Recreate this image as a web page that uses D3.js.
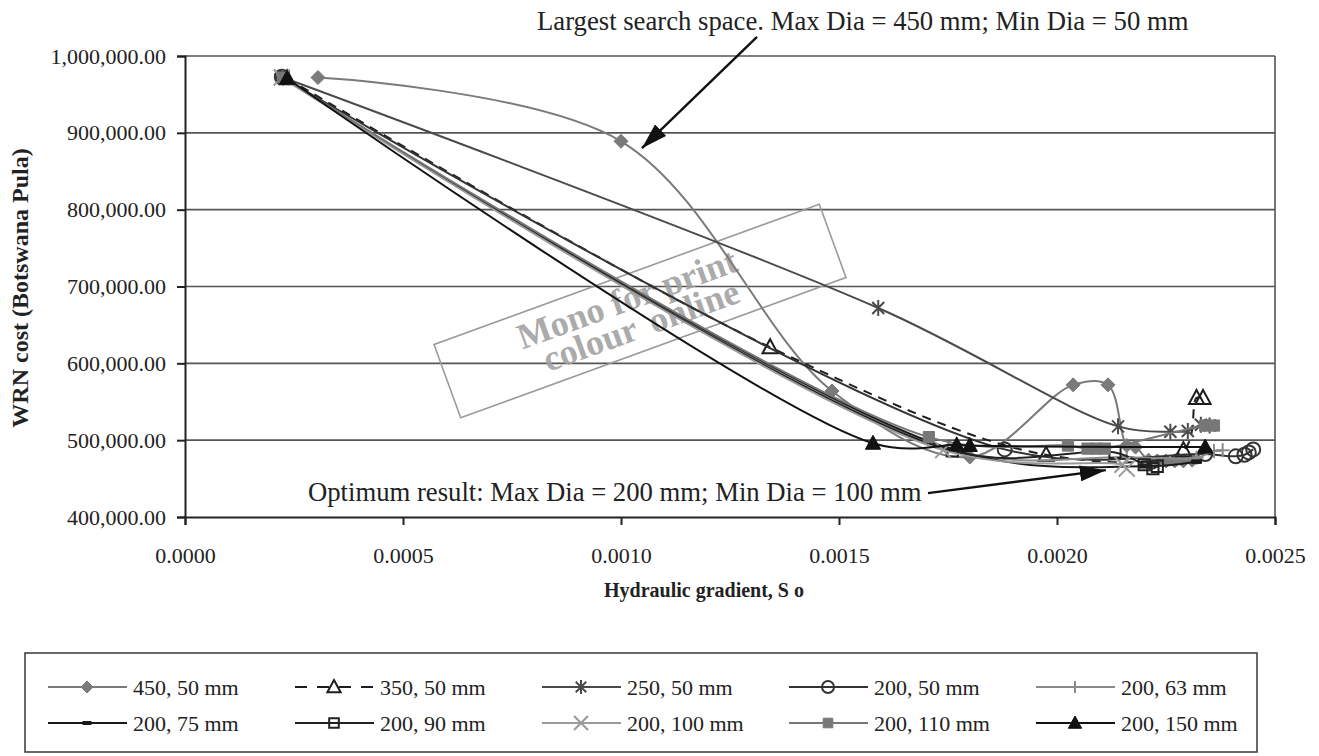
<!DOCTYPE html>
<html lang="en">
  <head>
    <meta charset="UTF-8" />
    <title>WRN cost vs hydraulic gradient</title>
    <style>
      body {
        margin: 0;
        background-color: #ffffff;
      }
      svg {
        display: block;
        font-family: "Liberation Serif", "Times New Roman", serif;
      }
      .tick text {
        font-size: 22px;
        fill: #222;
      }
      .axis-title {
        font-weight: bold;
        fill: #222;
      }
      .note {
        font-size: 26.7px;
        fill: #222;
      }
      .legend-text {
        font-size: 22px;
        fill: #222;
      }
    </style>
  </head>
  <body>
    <div id="chart"></div>

    <script src="https://d3js.org/d3.v7.min.js"></script>
    <script>
      // Data: [hydraulic gradient, WRN cost]
      const seriesNames = [
        "450, 50 mm", "350, 50 mm", "250, 50 mm", "200, 50 mm", "200, 63 mm",
        "200, 75 mm", "200, 90 mm", "200, 100 mm", "200, 110 mm", "200, 150 mm"
      ];
      const s450_50 = [
        [0.000305, 972000], [0.00100, 889000], [0.001484, 564000], [0.00180, 478000],
        [0.002037, 572000], [0.002117, 572000], [0.00216, 493000], [0.00218, 491000],
        [0.00221, 474000], [0.00223, 473000], [0.00225, 473000], [0.00227, 473000],
        [0.00229, 473000], [0.00231, 474000]
      ];
      const s350_50 = [
        [0.000234, 971000], [0.001342, 621000], [0.001975, 481000], [0.00229, 487000],
        [0.00232, 555000], [0.002335, 555000]
      ];
      const s250_50 = [
        [0.000225, 972000], [0.00159, 672000], [0.00214, 518000], [0.00226, 511000],
        [0.00230, 512000], [0.00233, 520000], [0.00235, 519000]
      ];
      const s200_50 = [
        [0.000222, 973000], [0.00188, 488000], [0.00234, 482000], [0.00241, 479000],
        [0.00243, 481000], [0.00244, 484000], [0.00245, 488000]
      ];
      const s200_63 = [
        [0.000225, 972000], [0.00175, 489000], [0.00216, 478000], [0.00232, 477000],
        [0.00236, 486000], [0.00238, 487000]
      ];
      const s200_75 = [
        [0.000222, 972000], [0.00176, 488000], [0.00220, 466000], [0.00232, 472000]
      ];
      const s200_90 = [
        [0.000225, 972000], [0.00176, 486000], [0.002133, 484000], [0.00220, 468000],
        [0.00222, 463000], [0.00223, 466000]
      ];
      const s200_100 = [
        [0.000222, 972000], [0.001739, 487000], [0.00215, 468000], [0.00216, 463000]
      ];
      const s200_110 = [
        [0.000225, 972000], [0.001706, 504000], [0.002025, 493000], [0.00207, 489000],
        [0.00209, 489000], [0.00211, 489000], [0.00234, 519000], [0.00236, 519000]
      ];
      const s200_150 = [
        [0.000234, 971000], [0.001578, 496000], [0.00177, 494000], [0.00180, 493000],
        [0.00234, 491000]
      ];
      const seriesValues = [
        s450_50, s350_50, s250_50, s200_50, s200_63,
        s200_75, s200_90, s200_100, s200_110, s200_150
      ];
      const yTicks = [400000, 500000, 600000, 700000, 800000, 900000, 1000000];
      const xTicks = [0, 0.0005, 0.001, 0.0015, 0.002, 0.0025];

      // annotation arrows in data units: [from, to]
      const arrowLargest = [[0.001312, 1025000], [0.001048, 880000]];
      const arrowOptimum = [[0.001704, 431000], [0.002112, 461000]];

      // look of each series (colour, marker, dash)
      const styles = [
        { color: "#7a7a7a", marker: "diamond", fill: true, dash: null },
        { color: "#1e1e1e", marker: "triangle", fill: false, dash: "9,7" },
        { color: "#4a4a4a", marker: "star", fill: false, dash: null },
        { color: "#333333", marker: "circle", fill: false, dash: null },
        { color: "#8a8a8a", marker: "plus", fill: false, dash: null },
        { color: "#1a1a1a", marker: "dash", fill: true, dash: null },
        { color: "#222222", marker: "square", fill: false, dash: null },
        { color: "#9a9a9a", marker: "x", fill: false, dash: null },
        { color: "#777777", marker: "square", fill: true, dash: null },
        { color: "#111111", marker: "triangle", fill: true, dash: null }
      ];

      const width = 1319;
      const height = 756;

      const x = d3.scaleLinear().domain([0, 0.0025]).range([185, 1275]);
      const y = d3.scaleLinear().domain([400000, 1000000]).range([517, 56]);

      const svg = d3
        .select("#chart")
        .append("svg")
        .attr("width", width)
        .attr("height", height);

      const defs = svg.append("defs");
      defs
        .append("marker")
        .attr("id", "arrow")
        .attr("markerUnits", "userSpaceOnUse")
        .attr("viewBox", "0 0 26 16")
        .attr("refX", 26)
        .attr("refY", 8)
        .attr("markerWidth", 26)
        .attr("markerHeight", 16)
        .attr("orient", "auto")
        .append("path")
        .attr("d", "M0,0 L26,8 L0,16 Z")
        .attr("fill", "#111");

      // gridlines
      svg
        .append("g")
        .selectAll("line")
        .data(yTicks.slice(1))
        .join("line")
        .attr("x1", x.range()[0])
        .attr("x2", x.range()[1])
        .attr("y1", (d) => y(d))
        .attr("y2", (d) => y(d))
        .attr("stroke", "#555")
        .attr("stroke-width", 1.6);

      // right border of plot area
      svg
        .append("line")
        .attr("x1", x.range()[1])
        .attr("x2", x.range()[1])
        .attr("y1", y.range()[0])
        .attr("y2", y.range()[1])
        .attr("stroke", "#555")
        .attr("stroke-width", 1.6);

      // axes
      const yAxis = svg
        .append("g")
        .attr("transform", "translate(" + x.range()[0] + ",0)")
        .call(
          d3.axisLeft(y).tickValues(yTicks).tickFormat(d3.format(",.2f")).tickSize(8).tickPadding(11)
        );
      const xAxis = svg
        .append("g")
        .attr("transform", "translate(0," + y.range()[0] + ")")
        .call(
          d3.axisBottom(x).tickValues(xTicks).tickFormat(d3.format(".4f")).tickSize(8).tickPadding(22)
        );
      [xAxis, yAxis].forEach((g) => {
        g.attr("font-family", null).attr("font-size", null);
        g.select(".domain").attr("stroke", "#222").attr("stroke-width", 2);
        g.selectAll(".tick line").attr("stroke", "#222").attr("stroke-width", 2);
      });

      // watermark
      const wm = svg
        .append("g")
        .attr("transform", "translate(640,311) rotate(-20)");
      wm.append("rect")
        .attr("x", -205)
        .attr("y", -39)
        .attr("width", 410)
        .attr("height", 78)
        .attr("fill", "none")
        .attr("stroke", "#9a9a9a")
        .attr("stroke-width", 1.6);
      wm.append("text")
        .attr("text-anchor", "middle")
        .attr("x", -8)
        .attr("y", -4)
        .attr("font-size", 36)
        .attr("font-weight", "bold")
        .attr("fill", "#a0a0a0")
        .attr("fill-opacity", 0.9)
        .text("Mono for print");
      wm.append("text")
        .attr("text-anchor", "middle")
        .attr("x", -4)
        .attr("y", 26)
        .attr("font-size", 36)
        .attr("font-weight", "bold")
        .attr("fill", "#a0a0a0")
        .attr("fill-opacity", 0.9)
        .attr("word-spacing", 6)
        .text("colour online");

      // marker shapes
      function markerPath(type, s) {
        switch (type) {
          case "diamond":
            return `M0,${-s}L${s},0L0,${s}L${-s},0Z`;
          case "triangle":
            return `M0,${-s}L${s * 0.95},${s * 0.75}L${-s * 0.95},${s * 0.75}Z`;
          case "star":
            return `M0,${-s}V${s}M${-s * 0.75},${-s * 0.75}L${s * 0.75},${s * 0.75}M${s * 0.75},${-s * 0.75}L${-s * 0.75},${s * 0.75}`;
          case "plus":
            return `M0,${-s}V${s}M${-s},0H${s}`;
          case "x":
            return `M${-s},${-s}L${s},${s}M${s},${-s}L${-s},${s}`;
          case "square":
            return `M${-s * 0.8},${-s * 0.8}H${s * 0.8}V${s * 0.8}H${-s * 0.8}Z`;
          case "dash":
            return `M${-s * 0.7},${-s * 0.25}H${s * 0.7}V${s * 0.25}H${-s * 0.7}Z`;
          case "circle":
            return d3.symbol(d3.symbolCircle, Math.PI * s * s)();
        }
      }
      function drawMarker(sel, st, s) {
        sel
          .attr("d", markerPath(st.marker, s))
          .attr("fill", st.fill ? st.color : "none")
          .attr("stroke", st.color)
          .attr("stroke-width", st.fill ? 1 : 2);
      }

      const line = d3
        .line()
        .x((d) => x(d[0]))
        .y((d) => y(d[1]))
        .curve(d3.curveCatmullRom.alpha(0.5));

      const sizes = { diamond: 7, triangle: 8, star: 8, circle: 7, plus: 7, dash: 7, square: 7, x: 8 };

      seriesValues.forEach((vals, i) => {
        const st = styles[i];
        const g = svg.append("g");
        g.append("path")
          .datum(vals)
          .attr("d", line)
          .attr("fill", "none")
          .attr("stroke", st.color)
          .attr("stroke-width", 2)
          .attr("stroke-dasharray", st.dash);
        g.selectAll("path.pt")
          .data(vals)
          .join("path")
          .attr("class", "pt")
          .attr("transform", (d) => `translate(${x(d[0])},${y(d[1])})`)
          .call(drawMarker, st, sizes[st.marker]);
      });

      // annotations
      svg
        .append("text")
        .attr("class", "note")
        .attr("x", 537)
        .attr("y", 30)
        .text("Largest search space. Max Dia = 450 mm; Min Dia = 50 mm");
      svg
        .append("text")
        .attr("class", "note")
        .attr("x", 308)
        .attr("y", 501)
        .text("Optimum result: Max Dia = 200 mm; Min Dia = 100 mm");
      [arrowLargest, arrowOptimum].forEach((a) => {
        svg
          .append("line")
          .attr("x1", x(a[0][0]))
          .attr("y1", y(a[0][1]))
          .attr("x2", x(a[1][0]))
          .attr("y2", y(a[1][1]))
          .attr("stroke", "#111")
          .attr("stroke-width", 2.4)
          .attr("marker-end", "url(#arrow)");
      });

      // axis titles
      svg
        .append("text")
        .attr("class", "axis-title")
        .attr("text-anchor", "middle")
        .attr("font-size", 24)
        .attr("transform", "translate(28,288) rotate(-90)")
        .text("WRN cost (Botswana Pula)");
      svg
        .append("text")
        .attr("class", "axis-title")
        .attr("text-anchor", "middle")
        .attr("font-size", 20)
        .attr("x", 704)
        .attr("y", 597)
        .text("Hydraulic gradient, S o");

      // legend
      const legend = svg.append("g");
      legend
        .append("rect")
        .attr("x", 25)
        .attr("y", 653)
        .attr("width", 1232)
        .attr("height", 99)
        .attr("fill", "none")
        .attr("stroke", "#444")
        .attr("stroke-width", 1.6);
      const items = legend
        .selectAll("g.item")
        .data(seriesNames)
        .join("g")
        .attr("class", "item")
        .attr("transform", (d, i) => `translate(${48 + (i % 5) * 247},${i < 5 ? 687 : 723})`);
      items
        .append("line")
        .attr("x1", 0)
        .attr("x2", 79)
        .attr("stroke", (d, i) => styles[i].color)
        .attr("stroke-width", 2)
        .attr("stroke-dasharray", (d, i) => (styles[i].dash ? "12,10" : null));
      items
        .append("path")
        .attr("transform", "translate(39,0)")
        .each(function (d, i) {
          d3.select(this).call(drawMarker, styles[i], sizes[styles[i].marker] - 1);
        });
      items
        .append("text")
        .attr("class", "legend-text")
        .attr("x", 85)
        .attr("dy", "0.35em")
        .text((d) => d);
    </script>
  </body>
</html>
